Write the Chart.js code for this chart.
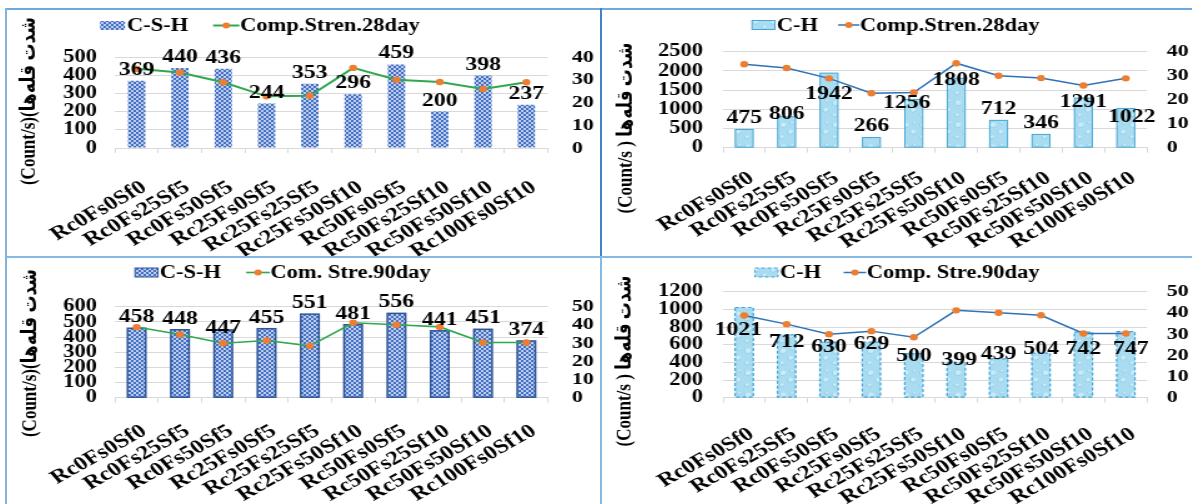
<!DOCTYPE html>
<html>
<head>
<meta charset="utf-8">
<script src="https://cdn.jsdelivr.net/npm/chart.js@4.4.1/dist/chart.umd.min.js"></script>
<style>
  html, body { margin: 0; padding: 0; background: #fff; }
  body { width: 1192px; height: 504px; position: relative; overflow: hidden; }
  .panel { position: absolute; transform-origin: 0 0; transform: scaleX(1.25); }
  .panel canvas { display: block; }
  .rule { position: absolute; }
</style>
</head>
<body>
<!-- frame lines between the four charts -->
<div class="rule" style="left:6px;top:8px;width:1186px;height:2px;background:#6fa8dc"></div>
<div class="rule" style="left:5px;top:8px;width:2px;height:496px;background:#7fb3e2"></div>
<div class="rule" style="left:600px;top:8px;width:2px;height:249px;background:#3d84c8"></div>
<div class="rule" style="left:600px;top:257px;width:2px;height:247px;background:#86b8e4"></div>
<div class="rule" style="left:6px;top:256px;width:1186px;height:2px;background:#86b8e4"></div>

<div class="panel" style="left:6px;top:10px"><canvas id="c1" width="476" height="246"></canvas></div>
<div class="panel" style="left:603px;top:10px"><canvas id="c2" width="471" height="246"></canvas></div>
<div class="panel" style="left:6px;top:258px"><canvas id="c3" width="476" height="246"></canvas></div>
<div class="panel" style="left:603px;top:258px"><canvas id="c4" width="471" height="246"></canvas></div>

<script>
// Mix designs on the category axis
const mixes = ['Rc0Fs0Sf0', 'Rc0Fs25Sf5', 'Rc0Fs50Sf5', 'Rc25Fs0Sf5', 'Rc25Fs25Sf5',
               'Rc25Fs50Sf10', 'Rc50Fs0Sf5', 'Rc50Fs25Sf10', 'Rc50Fs50Sf10', 'Rc100Fs0Sf10'];

// XRD peak intensities (Count/s)
const csh28 = [369, 440, 436, 244, 353, 296, 459, 200, 398, 237];
const ch28  = [475, 806, 1942, 266, 1256, 1808, 712, 346, 1291, 1022];
const csh90 = [458, 448, 447, 455, 551, 481, 556, 441, 451, 374];
const ch90  = [1021, 712, 630, 629, 500, 399, 439, 504, 742, 747];

// Compressive strength (MPa) at 28 and 90 days
const strength28 = [34.8, 33.2, 28.9, 22.7, 23.0, 35.2, 30.0, 29.0, 25.9, 28.9];
const strength90 = [38.8, 34.7, 29.9, 31.4, 28.5, 41.2, 40.1, 38.9, 30.3, 30.3];

// Left axis ranges
const cshTicks28 = { max: 500, step: 100 };
const chTicks28  = { max: 2500, step: 500 };
const cshTicks90 = { max: 600, step: 100 };
const chTicks90  = { max: 1200, step: 200 };

const titleA = '(Count/s)(شدت قله‌ها';
const titleB = '(Count/s ) شدت قله‌ها';

const STRETCH = 1.25;
const FONT = '"Liberation Serif", "Times New Roman", "DejaVu Sans", serif';
const ORANGE = '#ed7d31';

function dotPattern() {
  const c = document.createElement('canvas');
  c.width = 4; c.height = 4;
  const g = c.getContext('2d');
  g.fillStyle = '#426fc4';
  g.fillRect(0, 0, 4, 4);
  g.fillStyle = '#ffffff';
  const dots = [[1, 1], [3, 3], [3, -1], [-1, 3], [5, 3], [3, 5]];
  dots.forEach(([x, y]) => { g.beginPath(); g.arc(x, y, 0.88, 0, Math.PI * 2); g.fill(); });
  return g.createPattern(c, 'repeat');
}

function dropPattern() {
  const c = document.createElement('canvas');
  c.width = 14; c.height = 22;
  const g = c.getContext('2d');
  g.fillStyle = '#a9dcf0';
  g.fillRect(0, 0, 14, 22);
  const drops = [[4, 5, 2.6], [10, 12, 2.2], [3, 17, 1.8], [11, 3, 1.3]];
  drops.forEach(([x, y, r]) => {
    g.fillStyle = '#c9ebf8';
    g.beginPath(); g.arc(x, y, r, 0, Math.PI * 2); g.fill();
    g.strokeStyle = '#86c7e2';
    g.lineWidth = 0.7;
    g.beginPath(); g.arc(x, y, r, 0.2, Math.PI * 1.3); g.stroke();
  });
  return g.createPattern(c, 'repeat');
}

// Value labels, custom legend, bar outlines and rotated axis title
const decor = {
  id: 'decor',
  afterDatasetDraw(chart, args, o) {
    if (args.index !== 1 || !o.outline) return;
    const ctx = chart.ctx;
    ctx.save();
    ctx.strokeStyle = o.outline.color;
    ctx.lineWidth = o.outline.width;
    ctx.setLineDash(o.outline.dash);
    args.meta.data.forEach(bar => {
      const w = bar.width;
      ctx.strokeRect(bar.x - w / 2, bar.y, w, bar.base - bar.y);
    });
    ctx.restore();
  },
  afterDatasetsDraw(chart, args, o) {
    const ctx = chart.ctx;
    const meta = chart.getDatasetMeta(1);
    const values = chart.data.datasets[1].data;
    ctx.save();
    ctx.font = `bold 19px ${FONT}`;
    ctx.fillStyle = '#000';
    ctx.textAlign = 'center';
    ctx.textBaseline = 'alphabetic';
    meta.data.forEach((bar, i) => {
      const s = (o.shift && o.shift[i]) || [0, 0];
      ctx.fillText(String(values[i]), bar.x + s[0] / STRETCH, bar.y - 6 + s[1]);
    });
    ctx.restore();
  },
  afterDraw(chart, args, o) {
    const ctx = chart.ctx;
    const line = chart.data.datasets[0];
    const bars = chart.data.datasets[1];
    // legend
    const L = o.legend;
    let x = L.x;
    const y = L.y;
    ctx.save();
    ctx.fillStyle = bars.backgroundColor;
    ctx.fillRect(x, y - 4.5, L.box, 9);
    if (o.outline) {
      ctx.strokeStyle = o.outline.color;
      ctx.lineWidth = 1;
      ctx.setLineDash(o.outline.dash);
      ctx.strokeRect(x, y - 4.5, L.box, 9);
      ctx.setLineDash([]);
    }
    x += L.box + 1.5;
    ctx.font = `bold 18px ${FONT}`;
    ctx.fillStyle = '#000';
    ctx.textBaseline = 'middle';
    ctx.textAlign = 'left';
    ctx.fillText(bars.label, x, y + 1);
    x += ctx.measureText(bars.label).width + L.gap;
    ctx.strokeStyle = line.borderColor;
    ctx.lineWidth = line.borderWidth;
    ctx.beginPath(); ctx.moveTo(x, y); ctx.lineTo(x + L.line, y); ctx.stroke();
    ctx.fillStyle = ORANGE;
    ctx.beginPath(); ctx.arc(x + L.line / 2, y, 3, 0, Math.PI * 2); ctx.fill();
    x += L.line + 0.5;
    ctx.fillStyle = '#000';
    ctx.fillText(line.label, x, y + 1);
    ctx.restore();

    // rotated y-axis title
    const T = o.title;
    ctx.save();
    ctx.translate(T.x, T.y);
    ctx.rotate(-Math.PI / 2);
    ctx.direction = 'ltr';
    ctx.font = `bold 17px ${FONT}`;
    ctx.fillStyle = '#000';
    ctx.textAlign = 'center';
    ctx.textBaseline = 'middle';
    ctx.fillText(T.text, 0, 0);
    ctx.restore();
  }
};

const plain = v => String(v);

function makePanel(p) {
  const tickFont = { family: FONT, size: 18, weight: 'bold' };
  new Chart(document.getElementById(p.canvas), {
    type: 'bar',
    data: {
      labels: mixes,
      datasets: [
        {
          type: 'line', label: p.lineLabel, data: p.line, yAxisID: 'y1', order: 0,
          borderColor: p.lineColor, borderWidth: p.lineWidth, tension: 0,
          pointRadius: 3.2, pointBackgroundColor: ORANGE, pointBorderColor: ORANGE, pointBorderWidth: 0
        },
        {
          type: 'bar', label: p.barLabel, data: p.bars, yAxisID: 'y', order: 1,
          backgroundColor: p.fill, borderWidth: 0,
          barPercentage: p.barPct, categoryPercentage: 1
        }
      ]
    },
    options: {
      responsive: false, animation: false, devicePixelRatio: 1,
      layout: { padding: { top: p.top, left: 0, right: 0, bottom: 0 } },
      plugins: {
        legend: { display: false }, tooltip: { enabled: false },
        decor: { legend: p.legend, title: p.title, shift: p.shift, outline: p.outline }
      },
      scales: {
        x: {
          grid: { offset: true, drawOnChartArea: false, drawTicks: true, tickLength: 5, color: '#d9d9d9' },
          border: { color: '#d9d9d9' },
          ticks: {
            autoSkip: false, minRotation: 35, maxRotation: 35, padding: p.xPad, labelOffset: 6,
            color: '#000', font: { family: FONT, size: 19.5, weight: 'bold' }
          },
          afterFit: s => { s.height = p.xH; }
        },
        y: {
          position: 'left', min: 0, max: p.yTicks.max,
          ticks: { stepSize: p.yTicks.step, autoSkip: false, padding: p.yPad, color: '#000', font: tickFont, callback: plain },
          grid: { color: '#d9d9d9', drawTicks: false },
          border: { display: false },
          afterFit: s => { s.width = p.yW; }
        },
        y1: {
          position: 'right', min: 0, max: p.y1Max,
          ticks: { stepSize: 10, autoSkip: false, padding: p.y1Pad, color: '#000', callback: plain,
                   font: { family: FONT, size: 17.5, weight: 'bold' } },
          grid: { display: false, drawTicks: false },
          border: { display: false },
          afterFit: s => { s.width = p.y1W; }
        }
      }
    },
    plugins: [decor]
  });
}

const GREEN = '#2fa84f';
const BLUE = '#2e72b8';

makePanel({
  canvas: 'c1', bars: csh28, barLabel: 'C-S-H', line: strength28, lineLabel: 'Comp.Stren.28day',
  lineColor: GREEN, lineWidth: 2, yTicks: cshTicks28, y1Max: 40,
  top: 47, xH: 108, yW: 87.2, y1W: 42.4, yPad: 14.4, y1Pad: 19.2, xPad: 23, barPct: 0.40,
  fill: dotPattern(), outline: null,
  legend: { x: 75.2, y: 15.5, box: 20, gap: 20, line: 21 },
  title: { x: 18.8, y: 91, text: titleA }, shift: null
});

makePanel({
  canvas: 'c2', bars: ch28, barLabel: 'C-H', line: strength28, lineLabel: 'Comp.Stren.28day',
  lineColor: BLUE, lineWidth: 1.5, yTicks: chTicks28, y1Max: 40,
  top: 41.7, xH: 108.3, yW: 96, y1W: 35.8, yPad: 16, y1Pad: 15.8, xPad: 14, barPct: 0.42,
  fill: dropPattern(), outline: { color: '#45a5d6', width: 1, dash: [] },
  legend: { x: 119.2, y: 15, box: 18.4, gap: 16, line: 17 },
  title: { x: 18.4, y: 118, text: titleB },
  shift: [[0, 0], [0, 8], [0, 32], [0, 0], [-7, 15], [0, 13], [0, 0], [0, 0], [0, 15], [6, 20]]
});

makePanel({
  canvas: 'c3', bars: csh90, barLabel: 'C-S-H', line: strength90, lineLabel: 'Com. Stre.90day',
  lineColor: GREEN, lineWidth: 1.6, yTicks: cshTicks90, y1Max: 50,
  top: 48.7, xH: 106.3, yW: 87.2, y1W: 42.4, yPad: 14.4, y1Pad: 19.2, xPad: 17, barPct: 0.42,
  fill: dotPattern(), outline: { color: '#2f5597', width: 1.5, dash: [] },
  legend: { x: 103.2, y: 14.5, box: 18.4, gap: 20, line: 19 },
  title: { x: 19.6, y: 95, text: titleA },
  shift: [[0, 0], [0, 0], [0, 9], [0, 0], [0, 0], [0, 0], [0, 0], [0, 0], [0, 0], [0, 0]]
});

makePanel({
  canvas: 'c4', bars: ch90, barLabel: 'C-H', line: strength90, lineLabel: 'Comp. Stre.90day',
  lineColor: BLUE, lineWidth: 1.5, yTicks: chTicks90, y1Max: 50,
  top: 33.7, xH: 106.3, yW: 96, y1W: 35.8, yPad: 16, y1Pad: 15.8, xPad: 20, barPct: 0.43,
  fill: dropPattern(), outline: { color: '#3fa3d6', width: 1.2, dash: [3, 2] },
  legend: { x: 121.6, y: 14.5, box: 18.4, gap: 18, line: 18 },
  title: { x: 17.2, y: 103, text: titleB },
  shift: [[-6, 33], [0, 18], [0, 16], [0, 12.5], [0, 13], [3, 9], [0, 6], [0, 6.5], [0, 27.5], [5, 28]]
});
</script>
</body>
</html>
